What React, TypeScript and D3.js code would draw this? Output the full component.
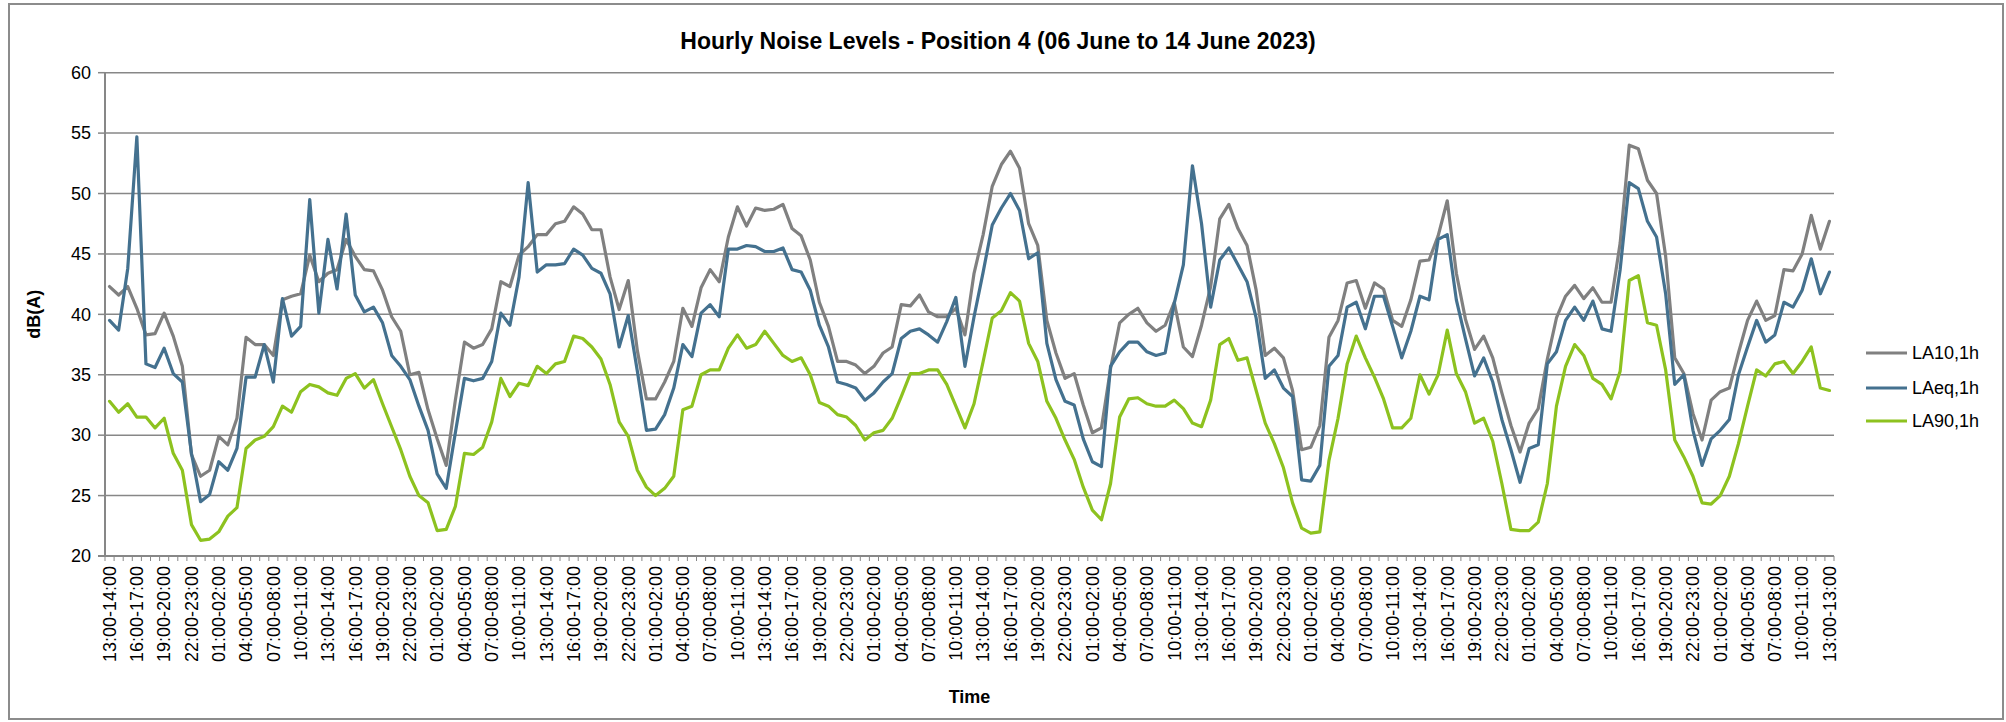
import React from "react";
import * as d3 from "d3";

const W = 2006;
const H = 722;

const title = "Hourly Noise Levels - Position 4 (06 June to 14 June 2023)";
const yTicks = [20, 25, 30, 35, 40, 45, 50, 55, 60];

// Labels shown on every third hourly category
const tickLabels = [
  "13:00-14:00", "16:00-17:00", "19:00-20:00", "22:00-23:00",
  "01:00-02:00", "04:00-05:00", "07:00-08:00", "10:00-11:00", "13:00-14:00", "16:00-17:00", "19:00-20:00", "22:00-23:00",
  "01:00-02:00", "04:00-05:00", "07:00-08:00", "10:00-11:00", "13:00-14:00", "16:00-17:00", "19:00-20:00", "22:00-23:00",
  "01:00-02:00", "04:00-05:00", "07:00-08:00", "10:00-11:00", "13:00-14:00", "16:00-17:00", "19:00-20:00", "22:00-23:00",
  "01:00-02:00", "04:00-05:00", "07:00-08:00", "10:00-11:00", "13:00-14:00", "16:00-17:00", "19:00-20:00", "22:00-23:00",
  "01:00-02:00", "04:00-05:00", "07:00-08:00", "10:00-11:00", "13:00-14:00", "16:00-17:00", "19:00-20:00", "22:00-23:00",
  "01:00-02:00", "04:00-05:00", "07:00-08:00", "10:00-11:00", "13:00-14:00", "16:00-17:00", "19:00-20:00", "22:00-23:00",
  "01:00-02:00", "04:00-05:00", "07:00-08:00", "10:00-11:00", "16:00-17:00", "19:00-20:00", "22:00-23:00",
  "01:00-02:00", "04:00-05:00", "07:00-08:00", "10:00-11:00", "13:00-13:00",
];

const LA10 = [
  42.3, 41.6, 42.3, 40.5, 38.3, 38.4, 40.1, 38.2, 35.7, 28.4,
  26.6, 27.1, 29.9, 29.2, 31.4, 38.1, 37.5, 37.5, 36.6, 41.2,
  41.5, 41.7, 44.9, 42.7, 43.4, 43.7, 46.2, 44.8, 43.7, 43.6,
  42.0, 39.8, 38.6, 35.0, 35.2, 32.1, 29.7, 27.5, 32.9, 37.7,
  37.2, 37.5, 38.8, 42.7, 42.3, 44.9, 45.6, 46.6, 46.6, 47.5,
  47.7, 48.9, 48.3, 47.0, 47.0, 43.1, 40.4, 42.8, 37.0, 33.0,
  33.0, 34.4, 36.1, 40.5, 39.0, 42.2, 43.7, 42.7, 46.4, 48.9,
  47.3, 48.8, 48.6, 48.7, 49.1, 47.1, 46.5, 44.5, 41.0, 39.0,
  36.1, 36.1, 35.8, 35.1, 35.7, 36.8, 37.3, 40.8, 40.7, 41.6,
  40.2, 39.8, 39.8, 40.5, 38.3, 43.4, 46.6, 50.6, 52.4, 53.5,
  52.1, 47.5, 45.7, 39.5, 36.8, 34.7, 35.1, 32.5, 30.2, 30.6,
  35.5, 39.3, 40.0, 40.5, 39.3, 38.6, 39.1, 41.0, 37.3, 36.5,
  39.1, 42.3, 47.9, 49.1, 47.1, 45.7, 42.0, 36.6, 37.2, 36.4,
  33.7, 28.8, 29.0, 30.8, 38.1, 39.5, 42.6, 42.8, 40.5, 42.6,
  42.1, 39.5, 39.0, 41.2, 44.4, 44.5, 46.5, 49.4, 43.4, 39.6,
  37.1, 38.2, 36.4, 33.5, 30.8, 28.6, 31.0, 32.2, 36.3, 39.7,
  41.5, 42.4, 41.3, 42.2, 41.0, 41.0, 45.9, 54.0, 53.7, 51.1,
  50.0, 44.8, 36.4, 35.1, 31.8, 29.6, 32.9, 33.6, 33.9, 36.8,
  39.5, 41.1, 39.5, 39.9, 43.7, 43.6, 45.0, 48.2, 45.4, 47.7,
];

const LAeq = [
  39.5, 38.7, 43.8, 54.7, 35.9, 35.6, 37.2, 35.1, 34.4, 28.5,
  24.5, 25.1, 27.8, 27.1, 28.9, 34.8, 34.8, 37.5, 34.4, 41.3,
  38.2, 39.0, 49.5, 40.1, 46.2, 42.1, 48.3, 41.6, 40.2, 40.6,
  39.3, 36.6, 35.7, 34.6, 32.4, 30.4, 26.8, 25.6, 30.2, 34.7,
  34.5, 34.7, 36.1, 40.1, 39.1, 43.1, 50.9, 43.5, 44.1, 44.1,
  44.2, 45.4, 44.9, 43.8, 43.4, 41.7, 37.3, 39.9, 35.3, 30.4,
  30.5, 31.7, 33.9, 37.5, 36.5, 40.1, 40.8, 39.8, 45.4, 45.4,
  45.7, 45.6, 45.2, 45.2, 45.5, 43.7, 43.5, 42.0, 39.1, 37.3,
  34.4, 34.2, 33.9, 32.9, 33.5, 34.4, 35.1, 38.0, 38.6, 38.8,
  38.3, 37.7, 39.4, 41.4, 35.7, 39.8, 43.5, 47.4, 48.8, 50.0,
  48.6, 44.6, 45.1, 37.6, 34.6, 32.8, 32.5, 29.7, 27.8, 27.4,
  35.7, 36.9, 37.7, 37.7, 36.9, 36.6, 36.8, 40.9, 44.1, 52.3,
  47.5, 40.6, 44.5, 45.5, 44.1, 42.7, 39.7, 34.7, 35.4, 33.9,
  33.2, 26.3, 26.2, 27.5, 35.7, 36.6, 40.6, 41.0, 38.8, 41.5,
  41.5, 39.0, 36.4, 38.6, 41.5, 41.2, 46.2, 46.6, 41.2, 38.0,
  34.9, 36.4, 34.4, 31.3, 28.8, 26.1, 28.9, 29.2, 35.9, 36.9,
  39.5, 40.6, 39.5, 41.1, 38.8, 38.6, 43.7, 50.9, 50.4, 47.7,
  46.4, 41.7, 34.2, 35.0, 30.4, 27.5, 29.7, 30.4, 31.3, 35.0,
  37.3, 39.5, 37.7, 38.3, 41.0, 40.6, 42.0, 44.6, 41.7, 43.5,
];

const LA90 = [
  32.8, 31.9, 32.6, 31.5, 31.5, 30.6, 31.4, 28.5, 27.1, 22.6,
  21.3, 21.4, 22.0, 23.3, 24.0, 28.9, 29.6, 29.9, 30.7, 32.4,
  31.9, 33.6, 34.2, 34.0, 33.5, 33.3, 34.7, 35.1, 33.9, 34.6,
  32.6, 30.7, 28.8, 26.6, 25.0, 24.4, 22.1, 22.2, 24.1, 28.5,
  28.4, 29.0, 31.1, 34.7, 33.2, 34.3, 34.1, 35.7, 35.1, 35.9,
  36.1, 38.2, 38.0, 37.3, 36.3, 34.2, 31.1, 29.9, 27.1, 25.7,
  25.0, 25.6, 26.6, 32.1, 32.4, 35.0, 35.4, 35.4, 37.2, 38.3,
  37.2, 37.5, 38.6, 37.6, 36.6, 36.1, 36.4, 35.0, 32.7, 32.4,
  31.7, 31.5, 30.8, 29.6, 30.2, 30.4, 31.4, 33.2, 35.1, 35.1,
  35.4, 35.4, 34.2, 32.4, 30.6, 32.6, 36.1, 39.7, 40.3, 41.8,
  41.1, 37.6, 36.1, 32.8, 31.4, 29.6, 28.0, 25.7, 23.8, 23.0,
  26.0, 31.5, 33.0, 33.1, 32.6, 32.4, 32.4, 32.9, 32.2, 31.0,
  30.7, 32.9, 37.5, 38.0, 36.2, 36.4, 33.7, 31.0, 29.3, 27.3,
  24.4, 22.3, 21.9, 22.0, 27.9, 31.4, 35.9, 38.2, 36.4, 34.8,
  33.0, 30.6, 30.6, 31.4, 35.0, 33.4, 35.0, 38.7, 35.1, 33.6,
  31.0, 31.4, 29.5, 26.0, 22.2, 22.1, 22.1, 22.8, 26.0, 32.4,
  35.7, 37.5, 36.6, 34.7, 34.2, 33.0, 35.3, 42.8, 43.2, 39.3,
  39.1, 35.4, 29.6, 28.2, 26.6, 24.4, 24.3, 25.0, 26.6, 29.3,
  32.4, 35.4, 34.9, 35.9, 36.1, 35.1, 36.1, 37.3, 33.9, 33.7,
];

const seriesNames = ["LA10,1h", "LAeq,1h", "LA90,1h"];
const seriesColors = ["#808080", "#44718f", "#8dc21f"];
const seriesData = [LA10, LAeq, LA90];

const FONT = "'Liberation Sans', Arial, sans-serif";

export default function App() {
  const plot = { left: 105, right: 1834, top: 72.7, bottom: 556 };
  const n = LA10.length;
  const idx = d3.range(n);
  const x = d3.scaleBand<number>().domain(idx).range([plot.left, plot.right]).padding(0);
  const bw = x.bandwidth();
  const cx = (i: number) => (x(i) as number) + bw / 2;
  const y = d3.scaleLinear().domain([20, 60]).range([plot.bottom, plot.top]);

  const line = d3
    .line<number>()
    .x((_, i) => cx(i))
    .y((d) => y(d));

  const gridColor = "#878787";
  const legendX = 1866;
  const legendY = [353, 388, 421];

  return (
    <svg
      width={W}
      height={H}
      style={{ position: "absolute", left: 0, top: 0, background: "#fff" }}
      fontFamily={FONT}
    >
      <rect x={0} y={0} width={W} height={H} fill="#fff" />
      <rect x={9} y={4} width={1994} height={715} fill="none" stroke="#8c8c8c" strokeWidth={2} />

      <text x={998} y={49} textAnchor="middle" fontSize={23} fontWeight="bold" fill="#000">
        {title}
      </text>

      {/* gridlines & y ticks */}
      {yTicks.map((t) => (
        <g key={t}>
          {t !== 20 && (
            <line x1={plot.left} x2={plot.right} y1={y(t)} y2={y(t)} stroke={gridColor} strokeWidth={1.5} />
          )}
          <line x1={plot.left - 7} x2={plot.left} y1={y(t)} y2={y(t)} stroke={gridColor} strokeWidth={1.5} />
          <text x={plot.left - 14} y={y(t)} dy="0.35em" textAnchor="end" fontSize={18} fill="#000">
            {t}
          </text>
        </g>
      ))}

      {/* axes */}
      <line x1={plot.left} x2={plot.left} y1={plot.top} y2={plot.bottom} stroke={gridColor} strokeWidth={2} />
      <line x1={plot.left - 7} x2={plot.right} y1={plot.bottom} y2={plot.bottom} stroke={gridColor} strokeWidth={2} />
      {d3.range(n + 1).map((i) => {
        const xx = plot.left + i * bw;
        return <line key={i} x1={xx} x2={xx} y1={plot.bottom} y2={plot.bottom + 5} stroke={gridColor} strokeWidth={1} />;
      })}

      {/* x tick labels */}
      {tickLabels.map((lab, j) => {
        const xi = cx(j * 3);
        const yy = plot.bottom + 10;
        return (
          <text
            key={j}
            transform={`translate(${xi},${yy}) rotate(-90)`}
            textAnchor="end"
            dy="0.35em"
            fontSize={18}
            fill="#000"
          >
            {lab}
          </text>
        );
      })}

      {/* series */}
      {seriesData.map((s, k) => (
        <path
          key={k}
          d={line(s) || ""}
          fill="none"
          stroke={seriesColors[k]}
          strokeWidth={3.2}
          strokeLinejoin="round"
          strokeLinecap="round"
        />
      ))}

      {/* axis titles */}
      <text x={(plot.left + plot.right) / 2} y={703} textAnchor="middle" fontSize={18} fontWeight="bold" fill="#000">
        Time
      </text>
      <text
        transform={`translate(40,${(plot.top + plot.bottom) / 2}) rotate(-90)`}
        textAnchor="middle"
        fontSize={18}
        fontWeight="bold"
        fill="#000"
      >
        dB(A)
      </text>

      {/* legend */}
      {seriesNames.map((name, k) => (
        <g key={name}>
          <line x1={legendX} x2={legendX + 41} y1={legendY[k]} y2={legendY[k]} stroke={seriesColors[k]} strokeWidth={3.2} />
          <text x={legendX + 46} y={legendY[k]} dy="0.35em" fontSize={18} fill="#000">
            {name}
          </text>
        </g>
      ))}
    </svg>
  );
}
